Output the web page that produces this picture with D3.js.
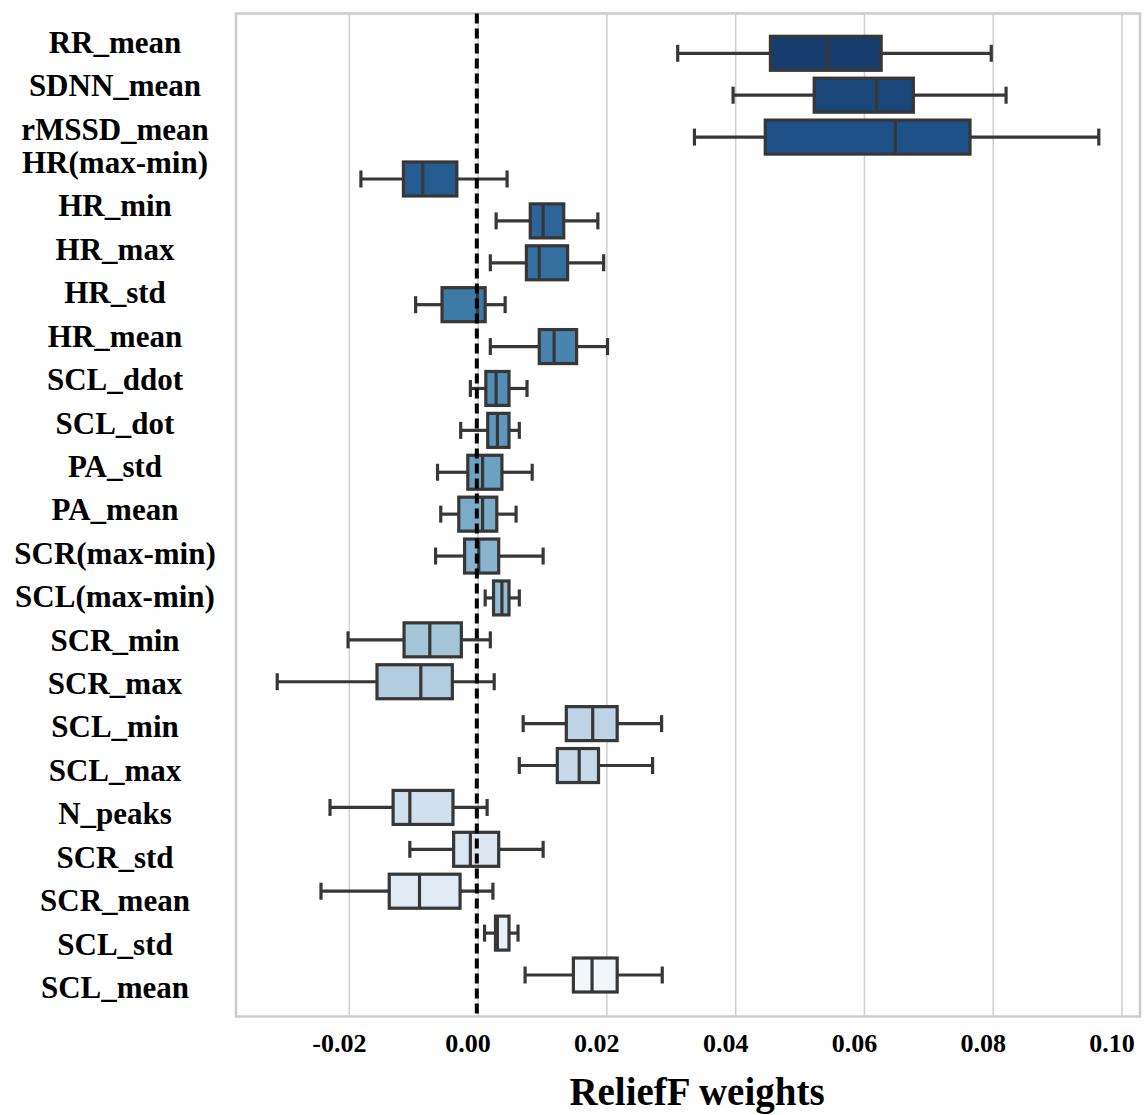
<!DOCTYPE html>
<html>
<head>
<meta charset="utf-8">
<script src="https://cdn.jsdelivr.net/npm/d3@7"></script>
<style>
  body { margin: 0; background: #fff; }
  text { font-family: "Liberation Serif", "Times New Roman", serif; font-weight: bold; }
</style>
</head>
<body>
<svg id="chart"></svg>
<script>
// feature names, top to bottom
const features = ["RR_mean", "SDNN_mean", "rMSSD_mean", "HR(max-min)", "HR_min", "HR_max", "HR_std",
  "HR_mean", "SCL_ddot", "SCL_dot", "PA_std", "PA_mean", "SCR(max-min)", "SCL(max-min)", "SCR_min",
  "SCR_max", "SCL_min", "SCL_max", "N_peaks", "SCR_std", "SCR_mean", "SCL_std", "SCL_mean"];

// box statistics
const whiskerLo = [0.0310, 0.0396, 0.0336, -0.0182, 0.0028, 0.0019, -0.0097, 0.0019, -0.0012, -0.0027, -0.0063, -0.0058,
  -0.0066, 0.0011, -0.0202, -0.0312, 0.0070, 0.0064, -0.0230, -0.0106, -0.0244, 0.0010, 0.0073];
const q1 = [0.0454, 0.0522, 0.0446, -0.0116, 0.0081, 0.0075, -0.0056, 0.0095, 0.0012, 0.0015, -0.0016, -0.0030,
  -0.0021, 0.0024, -0.0115, -0.0157, 0.0137, 0.0123, -0.0132, -0.0038, -0.0138, 0.0027, 0.0148];
const medians = [0.0543, 0.0619, 0.0648, -0.0086, 0.0101, 0.0095, -0.0001, 0.0118, 0.0028, 0.0030, 0.0007, 0.0007,
  0.0001, 0.0037, -0.0075, -0.0089, 0.0178, 0.0157, -0.0106, -0.0012, -0.0091, 0.0030, 0.0177];
const q3 = [0.0626, 0.0676, 0.0764, -0.0033, 0.0133, 0.0139, 0.0011, 0.0153, 0.0048, 0.0048, 0.0037, 0.0029,
  0.0032, 0.0048, -0.0026, -0.0040, 0.0216, 0.0187, -0.0039, 0.0032, -0.0028, 0.0048, 0.0216];
const whiskerHi = [0.0797, 0.0820, 0.0964, 0.0045, 0.0186, 0.0195, 0.0042, 0.0201, 0.0076, 0.0064, 0.0084, 0.0059,
  0.0101, 0.0064, 0.0019, 0.0025, 0.0285, 0.0271, 0.0014, 0.0101, 0.0023, 0.0062, 0.0286];

const xTicks = [-0.02, 0.00, 0.02, 0.04, 0.06, 0.08, 0.10];
const refLine = -0.0002;

const data = features.map((f, i) => ({
  name: f, lo: whiskerLo[i], q1: q1[i], med: medians[i], q3: q3[i], hi: whiskerHi[i], i: i
}));

const width = 1146, height = 1115;
const plot = {left: 236, right: 1140, top: 13.5, bottom: 1016.5};

const svg = d3.select("#chart")
  .attr("width", width)
  .attr("height", height);

const x = d3.scaleLinear()
  .domain([-0.0376, 0.1028])
  .range([plot.left, plot.right]);

// box rows and label rows (labels are not quite aligned with the boxes in the source)
const y = d3.scalePoint().domain(features).range([53.3, 975]);
const yLabel = d3.scalePoint().domain(features).range([42.8, 998]);
const topGroupShift = 10; // first three labels sit a bit lower
const boxH = 34;

// seaborn-like reversed Blues, desaturated
const color = function(i) {
  const c = d3.hsl(d3.interpolateBlues(1 - (i + 1) / (features.length + 1)));
  c.s *= 0.75;
  return c.formatHex();
};

// grid lines
svg.append("g")
  .selectAll("line")
  .data(xTicks)
  .enter().append("line")
  .attr("x1", d => x(d)).attr("x2", d => x(d))
  .attr("y1", plot.top).attr("y2", plot.bottom)
  .attr("stroke", "#cfcfcf")
  .attr("stroke-width", 1.5);

// frame
svg.append("rect")
  .attr("x", plot.left).attr("y", plot.top)
  .attr("width", plot.right - plot.left)
  .attr("height", plot.bottom - plot.top)
  .attr("fill", "none")
  .attr("stroke", "#cccccc")
  .attr("stroke-width", 2.5);

// boxes
const lineCol = "#373737";
const box = svg.append("g").selectAll("g")
  .data(data)
  .enter().append("g");

box.append("line")
  .attr("x1", d => x(d.lo)).attr("x2", d => x(d.q1))
  .attr("y1", d => y(d.name)).attr("y2", d => y(d.name));
box.append("line")
  .attr("x1", d => x(d.q3)).attr("x2", d => x(d.hi))
  .attr("y1", d => y(d.name)).attr("y2", d => y(d.name));
box.append("line")
  .attr("x1", d => x(d.lo)).attr("x2", d => x(d.lo))
  .attr("y1", d => y(d.name) - boxH / 4).attr("y2", d => y(d.name) + boxH / 4);
box.append("line")
  .attr("x1", d => x(d.hi)).attr("x2", d => x(d.hi))
  .attr("y1", d => y(d.name) - boxH / 4).attr("y2", d => y(d.name) + boxH / 4);
box.append("rect")
  .attr("x", d => x(d.q1))
  .attr("y", d => y(d.name) - boxH / 2)
  .attr("width", d => x(d.q3) - x(d.q1))
  .attr("height", boxH)
  .attr("fill", d => color(d.i));
box.append("line")
  .attr("x1", d => x(d.med)).attr("x2", d => x(d.med))
  .attr("y1", d => y(d.name) - boxH / 2).attr("y2", d => y(d.name) + boxH / 2);

box.selectAll("line, rect")
  .attr("stroke", lineCol)
  .attr("stroke-width", 3.2);

// dashed reference line
svg.append("line")
  .attr("x1", x(refLine)).attr("x2", x(refLine))
  .attr("y1", plot.top).attr("y2", plot.bottom)
  .attr("stroke", "#000")
  .attr("stroke-width", 4)
  .attr("stroke-dasharray", "10,5");

// y labels
svg.append("g")
  .selectAll("text")
  .data(features)
  .enter().append("text")
  .attr("x", 115)
  .attr("y", (d, i) => yLabel(d) + (i < 3 ? topGroupShift : 0))
  .attr("text-anchor", "middle")
  .attr("font-size", 31)
  .attr("fill", "#000")
  .text(d => d);

// x tick labels
svg.append("g")
  .selectAll("text")
  .data(xTicks)
  .enter().append("text")
  .attr("x", d => x(d) - 10)
  .attr("y", 1052)
  .attr("text-anchor", "middle")
  .attr("font-size", 26)
  .attr("fill", "#000")
  .text(d => d3.format(".2f")(d).replace("\u2212", "-"));

// x title
svg.append("text")
  .attr("x", 697)
  .attr("y", 1105)
  .attr("text-anchor", "middle")
  .attr("font-size", 39)
  .attr("fill", "#000")
  .text("ReliefF weights");
</script>
</body>
</html>
